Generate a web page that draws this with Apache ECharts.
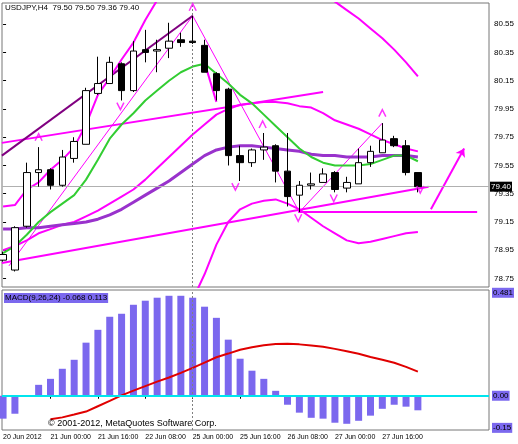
<!doctype html>
<html>
<head>
<meta charset="utf-8">
<script src="https://cdn.jsdelivr.net/npm/echarts@6/dist/echarts.min.js"></script>
<style>
* { margin:0; padding:0; }
body { background:#fff; }
#chart { width:518px; height:444px; }
</style>
</head>
<body>
<div id="chart"></div>
<script>
// bar times (H4) -- labels every 4 bars
var dateLabels = ['20 Jun 2012','21 Jun 00:00','21 Jun 16:00','22 Jun 08:00','25 Jun 00:00','25 Jun 16:00','26 Jun 08:00','27 Jun 00:00','27 Jun 16:00'];
var labelIdx = [0,4,8,12,16,20,24,28,32];

var opens  = [78.88,78.81,79.12,79.50,79.52,79.41,79.60,79.70,80.06,80.13,80.27,80.08,80.37,80.36,80.38,80.44,80.43,80.40,80.20,80.09,79.62,79.57,79.66,79.69,79.51,79.34,79.41,79.43,79.50,79.39,79.42,79.57,79.64,79.74,79.69,79.50];
var highs  = [78.94,79.12,79.57,79.68,79.53,79.66,79.75,80.10,80.32,80.32,80.28,80.43,80.51,80.44,80.56,80.49,80.61,80.44,80.21,80.10,79.69,79.67,79.78,79.70,79.78,79.44,79.50,79.53,79.51,79.47,79.67,79.69,79.85,79.76,79.73,79.50];
var lows   = [78.87,78.80,79.11,79.40,79.38,79.40,79.57,79.70,80.05,80.13,80.01,80.07,80.28,80.21,80.31,80.39,80.41,80.21,80.01,79.55,79.44,79.54,79.59,79.43,79.26,79.22,79.38,79.43,79.36,79.36,79.42,79.54,79.64,79.68,79.48,79.36];
var closes = [78.92,79.11,79.50,79.52,79.41,79.61,79.72,80.08,80.13,80.28,80.08,80.36,80.35,80.37,80.43,80.42,80.42,80.21,80.08,79.62,79.57,79.66,79.68,79.51,79.33,79.41,79.42,79.49,79.38,79.43,79.57,79.65,79.73,79.69,79.50,79.40];

var maGreen  = [78.93,78.98,79.06,79.15,79.22,79.28,79.34,79.45,79.59,79.74,79.84,79.92,80.01,80.08,80.15,80.21,80.25,80.27,80.20,80.13,80.05,79.99,79.91,79.83,79.75,79.67,79.61,79.57,79.55,79.55,79.55,79.56,79.59,79.62,79.62,79.58];
var maPurple = [79.10,79.10,79.11,79.11,79.12,79.13,79.14,79.15,79.17,79.20,79.24,79.29,79.34,79.39,79.44,79.50,79.56,79.62,79.66,79.68,79.69,79.69,79.68,79.67,79.66,79.65,79.63,79.62,79.62,79.61,79.61,79.61,79.62,79.62,79.62,79.61];
var bandUpper = [79.26,79.27,79.38,79.43,79.52,79.59,79.68,79.84,80.05,80.17,80.30,80.42,80.58,80.72,80.86,81.00,81.10,81.18,81.24,81.27,81.28,81.27,81.24,81.18,81.10,81.00,80.88,80.76,80.71,80.65,80.59,80.52,80.45,80.37,80.28,80.18];
var bandMid = [78.95,78.98,79.02,79.07,79.10,79.13,79.15,79.19,79.23,79.28,79.33,79.38,79.45,79.53,79.61,79.69,79.77,79.84,79.91,79.95,79.98,79.99,80.00,80.00,79.99,79.97,79.96,79.92,79.87,79.84,79.81,79.77,79.73,79.70,79.67,79.65];
var bandLower = [null,null,null,null,null,null,null,null,null,null,null,null,null,null,null,null,78.60,78.78,78.99,79.15,79.24,79.28,79.30,79.31,79.28,79.24,79.18,79.12,79.07,79.02,79.00,79.01,79.03,79.05,79.07,79.08];

// straight objects: [x0, y0, x1, y1] in bar index / price
var trendDark  = [-0.1, 79.62, 16, 80.61];
var trendUpper = [-0.1, 79.71, 27, 80.07];
var trendLower = [-0.1, 78.86, 35.9, 79.40];
var levelLine  = [24.9, 79.22, 40, 79.22];
var zigzag = [[0.5,78.84],[16,80.61],[25,79.22],[32,79.85]];
var arrowDown = [17, 80.28, 18, 80.00];
var arrowUp = [36.1, 79.24, 38.9, 79.67];
var fractalsUp = [[16,80.67],[3,79.75],[21.9,79.84],[32,79.92]];
var fractalsDown = [[9.9,79.97],[19.6,79.40],[24.9,79.18],[27.9,79.32],[35.2,79.38]];

var priceTicks = [78.75,78.95,79.15,79.35,79.55,79.75,79.95,80.15,80.35,80.55];
var lastPrice = 79.40;

var macdHist = [-0.107,-0.084,-0.005,0.051,0.079,0.126,0.168,0.248,0.308,0.369,0.383,0.425,0.444,0.458,0.467,0.467,0.458,0.416,0.364,0.262,0.173,0.117,0.079,0.023,-0.042,-0.079,-0.103,-0.107,-0.126,-0.131,-0.117,-0.093,-0.061,-0.042,-0.051,-0.068];
var macdSignal = [null,null,null,null,-0.110,-0.101,-0.088,-0.074,-0.049,-0.024,0.002,0.024,0.045,0.066,0.085,0.107,0.130,0.155,0.180,0.197,0.215,0.227,0.236,0.242,0.243,0.240,0.235,0.229,0.219,0.208,0.196,0.181,0.168,0.154,0.135,0.113];
var macdTicks = [-0.15, 0, 0.481];
var macdTickText = ['-0.15','0.00','0.481'];

var FONT = 'Liberation Sans';
var MAG = '#ff00ff';
var XMIN = -0.09, XMAX = 41.0;

var candles = opens.map(function(o,i){ return [i, o, closes[i], lows[i], highs[i]]; });
function idxPairs(arr){ return arr.map(function(v,i){ return [i, v]; }); }
function seg(s){ return {coords:[[s[0],s[1]],[s[2],s[3]]]}; }

var chart = echarts.init(document.getElementById('chart'));
chart.setOption({
  animation:false,
  textStyle:{fontFamily:FONT},
  grid:[
    {left:2, top:3, width:487, height:284, show:true, borderColor:'#777', borderWidth:1},
    {left:2, top:290, width:487, height:140, show:true, borderColor:'#777', borderWidth:1}
  ],
  xAxis:[
    {type:'value', gridIndex:0, min:XMIN, max:XMAX, show:false},
    {type:'value', gridIndex:1, min:XMIN, max:XMAX, splitLine:{show:false},
      axisLine:{show:false},
      axisTick:{show:true, customValues:labelIdx, length:3, lineStyle:{color:'#000'}},
      axisLabel:{customValues:labelIdx, align:'left', margin:4, fontSize:7, color:'#000', fontFamily:FONT,
        formatter:function(v){ var k = labelIdx.indexOf(Math.round(v)); return k<0?'':dateLabels[k]; }}}
  ],
  yAxis:[
    {type:'value', gridIndex:0, position:'right', min:78.69, max:80.70, splitLine:{show:false},
      axisLine:{show:false},
      axisTick:{show:true, customValues:priceTicks, length:3, lineStyle:{color:'#000'}},
      axisLabel:{customValues:priceTicks, margin:5, fontSize:8, color:'#000', fontFamily:FONT,
        formatter:function(v){ return v.toFixed(2); }}},
    {type:'value', gridIndex:1, position:'right', min:-0.16, max:0.494, splitLine:{show:false},
      axisLine:{show:false}, axisTick:{show:false},
      axisLabel:{customValues:macdTicks, margin:3, fontSize:8, color:'#000', fontFamily:FONT,
        backgroundColor:'#7b68ee', padding:[1,1],
        formatter:function(v){ var k = macdTicks.indexOf(v); return k<0?'':macdTickText[k]; }}}
  ],
  series:[
    {type:'lines', coordinateSystem:'cartesian2d', xAxisIndex:0, yAxisIndex:0, polyline:true, silent:true,
      lineStyle:{color:MAG, width:1, opacity:1}, data:[{coords:zigzag}], z:3},
    {type:'line', xAxisIndex:0, yAxisIndex:0, data:idxPairs(bandUpper), symbol:'none', connectNulls:false,
      lineStyle:{color:MAG, width:2}, z:3},
    {type:'line', xAxisIndex:0, yAxisIndex:0, data:idxPairs(bandMid), symbol:'none',
      lineStyle:{color:MAG, width:2}, z:3},
    {type:'line', xAxisIndex:0, yAxisIndex:0, data:idxPairs(bandLower), symbol:'none',
      lineStyle:{color:MAG, width:2}, z:3},
    {type:'lines', coordinateSystem:'cartesian2d', xAxisIndex:0, yAxisIndex:0, silent:true,
      lineStyle:{color:MAG, width:2, opacity:1}, data:[seg(trendUpper), seg(trendLower), seg(levelLine), seg(arrowDown)], z:3},
    {type:'lines', coordinateSystem:'cartesian2d', xAxisIndex:0, yAxisIndex:0, silent:true,
      symbol:['none','arrow'], symbolSize:8,
      lineStyle:{color:MAG, width:2, opacity:1}, data:[seg(arrowUp)], z:3},
    {type:'lines', coordinateSystem:'cartesian2d', xAxisIndex:0, yAxisIndex:0, silent:true,
      lineStyle:{color:'#800080', width:2, opacity:1}, data:[seg(trendDark)], z:3},
    {type:'line', xAxisIndex:0, yAxisIndex:0, data:idxPairs(maPurple), symbol:'none',
      lineStyle:{color:'#9932cc', width:3}, z:4},
    {type:'line', xAxisIndex:0, yAxisIndex:0, data:idxPairs(maGreen), symbol:'none',
      lineStyle:{color:'#32cd32', width:2}, z:4},
    {type:'candlestick', xAxisIndex:0, yAxisIndex:0, data:candles, barWidth:7, z:5,
      encode:{x:0, y:[1,2,3,4]},
      itemStyle:{color:'#fff', borderColor:'#000', color0:'#000', borderColor0:'#000', borderWidth:1},
      markLine:{silent:true, symbol:'none', animation:false,
        data:[
          {yAxis:lastPrice, lineStyle:{color:'#b0b0b0', type:'solid', width:1},
            label:{show:true, position:'end', distance:1, formatter:'79.40', color:'#fff', backgroundColor:'#000',
              fontSize:8, padding:[1,1], fontFamily:FONT}},
          {xAxis:16, lineStyle:{color:'#808080', type:[2,2], width:1}, label:{show:false}}
        ]}},
    {type:'scatter', xAxisIndex:0, yAxisIndex:0, data:fractalsUp, symbol:'path://M0,10 L5,0 L10,10',
      symbolSize:[7,7], itemStyle:{color:'rgba(0,0,0,0)', borderColor:MAG, borderWidth:1.5}, z:6},
    {type:'scatter', xAxisIndex:0, yAxisIndex:0, data:fractalsDown, symbol:'path://M0,0 L5,10 L10,0',
      symbolSize:[7,7], itemStyle:{color:'rgba(0,0,0,0)', borderColor:MAG, borderWidth:1.5}, z:6},
    {type:'bar', xAxisIndex:1, yAxisIndex:1, data:idxPairs(macdHist), barWidth:7,
      itemStyle:{color:'#7b68ee'}, z:2,
      markLine:{silent:true, symbol:'none', animation:false, label:{show:false},
        data:[{xAxis:16, lineStyle:{color:'#808080', type:[2,2], width:1}}]}},
    {type:'line', xAxisIndex:1, yAxisIndex:1, data:idxPairs(macdSignal), symbol:'none',
      lineStyle:{color:'#e00000', width:2}, z:3,
      markLine:{silent:true, symbol:'none', animation:false, label:{show:false},
        data:[{yAxis:0, lineStyle:{color:'#00e5ee', type:'solid', width:2}}]}}
  ],
  graphic:[
    {type:'text', left:5, top:4, z:10, style:{text:'USDJPY,H4  79.50 79.50 79.36 79.40', fontSize:8, fill:'#000', fontFamily:FONT}},
    {type:'text', left:4, top:293, z:10, style:{text:'MACD(9,26,24) -0.068 0.113', fontSize:8, fill:'#000', fontFamily:FONT,
      backgroundColor:'#7b68ee', padding:[1,1]}},
    {type:'text', left:48, top:419, z:10, style:{text:'\u00a9 2001-2012, MetaQuotes Software Corp.', fontSize:9, fill:'#000', fontFamily:FONT}}
  ]
});
</script>
</body>
</html>
